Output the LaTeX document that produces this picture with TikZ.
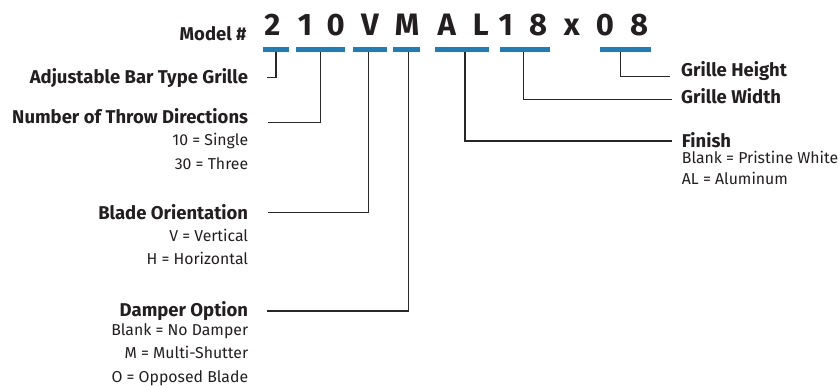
\documentclass[tikz,border=0pt]{standalone}
\usepackage{fontspec}
\setmainfont{Fira Sans}
\definecolor{barblue}{RGB}{27,127,190}
\definecolor{ink}{RGB}{35,31,32}
\definecolor{lineink}{RGB}{40,40,40}
\begin{document}
\begin{tikzpicture}[x=1pt,y=-1pt,
  big/.style={anchor=base,inner sep=0pt,text=ink,font=\fontsize{31}{36}\selectfont\bfseries},
  model/.style={anchor=base east,inner sep=0pt,text=ink,font=\fontsize{18.5}{22}\selectfont\bfseries},
  head/.style={inner sep=0pt,text=ink,font=\fontsize{18.5}{22}\selectfont\bfseries},
  sub/.style={inner sep=0pt,text=ink,font=\fontsize{15.8}{19}\selectfont},
  bar/.style={fill=barblue,draw=none,minimum height=5pt,inner sep=0pt},
  conn/.style={draw=lineink,line width=1.2pt}]
\useasboundingbox (0,0) rectangle (840,387);
% model number
\node[model] (mn) at (246.7,41) {Model \#};
\node[big] (k1) at (272.5,36) {2};
\node[big] (k2) at (305,36) {1};
\node[big] (k3) at (335.8,36) {0};
\node[big] (k4) at (370,36) {V};
\node[big] (k5) at (407,36) {M};
\node[big] (k6) at (446.7,36) {A};
\node[big] (k7) at (480.8,36) {L};
\node[big] (k8) at (505.8,36) {1};
\node[big] (k9) at (538,36) {8};
\node[big] (k10) at (571.7,36) {x};
\node[big] (k11) at (605,36) {0};
\node[big] (k12) at (639,36) {8};
% bars
\node[bar,minimum width=26.6pt] (b1) at (276,49.2) {};
\node[bar,minimum width=49pt] (b2) at (320.5,49.2) {};
\node[bar,minimum width=34pt] (b3) at (369.7,49.2) {};
\node[bar,minimum width=26.7pt] (b4) at (406.7,49.2) {};
\node[bar,minimum width=54pt] (b5) at (462,49.2) {};
\node[bar,minimum width=50pt] (b6) at (525,49.2) {};
\node[bar,minimum width=50.7pt] (b7) at (625.3,49.2) {};
% left labels
\node[head,anchor=base east] (h1) at (248.3,83.3) {Adjustable Bar Type Grille};
\node[head,anchor=base east] (h2) at (248.3,124) {Number of Throw Directions};
\node[sub,anchor=base east] (s21) at (248.3,146) {10 = Single};
\node[sub,anchor=base east] (s22) at (248.3,169.3) {30 = Three};
\node[head,anchor=base east] (h3) at (248.3,220) {Blade Orientation};
\node[sub,anchor=base east] (s31) at (248.3,241.7) {V = Vertical};
\node[sub,anchor=base east] (s32) at (248.3,265) {H = Horizontal};
\node[head,anchor=base east] (h4) at (248.3,316.7) {Damper Option};
\node[sub,anchor=base east] (s41) at (248.3,335) {Blank = No Damper};
\node[sub,anchor=base east] (s42) at (248.3,358.3) {M = Multi-Shutter};
\node[sub,anchor=base east] (s43) at (248.3,382.7) {O = Opposed Blade};
% right labels
\node[head,anchor=base west] (h7) at (681,76.7) {Grille Height};
\node[head,anchor=base west] (h6) at (681,104) {Grille Width};
\node[head,anchor=base west] (h5) at (681.7,147.7) {Finish};
\node[sub,anchor=base west] (s51) at (681.7,163.3) {Blank = Pristine White};
\node[sub,anchor=base west] (s52) at (681.7,185) {AL = Aluminum};
% connector ends
\coordinate (c1) at (266.7,77.7);
\coordinate (c2) at (268.3,122.7);
\coordinate (c3) at (268.3,212.3);
\coordinate (c4) at (266.7,311);
\coordinate (c5) at (671.7,141);
\coordinate (c6) at (671.7,99.3);
\coordinate (c7) at (670,76.7);
% connectors
\draw[conn] (b1.south) |- (c1);
\draw[conn] (b2.south) |- (c2);
\draw[conn] ([xshift=-1.4pt]b3.south) |- (c3);
\draw[conn] ([xshift=1.6pt]b4.south) |- (c4);
\draw[conn] ([xshift=3pt]b5.south) |- (c5);
\draw[conn] ([xshift=-1.7pt]b6.south) |- (c6);
\draw[conn] ([xshift=-4.6pt]b7.south) |- (c7);
\end{tikzpicture}
\end{document}
